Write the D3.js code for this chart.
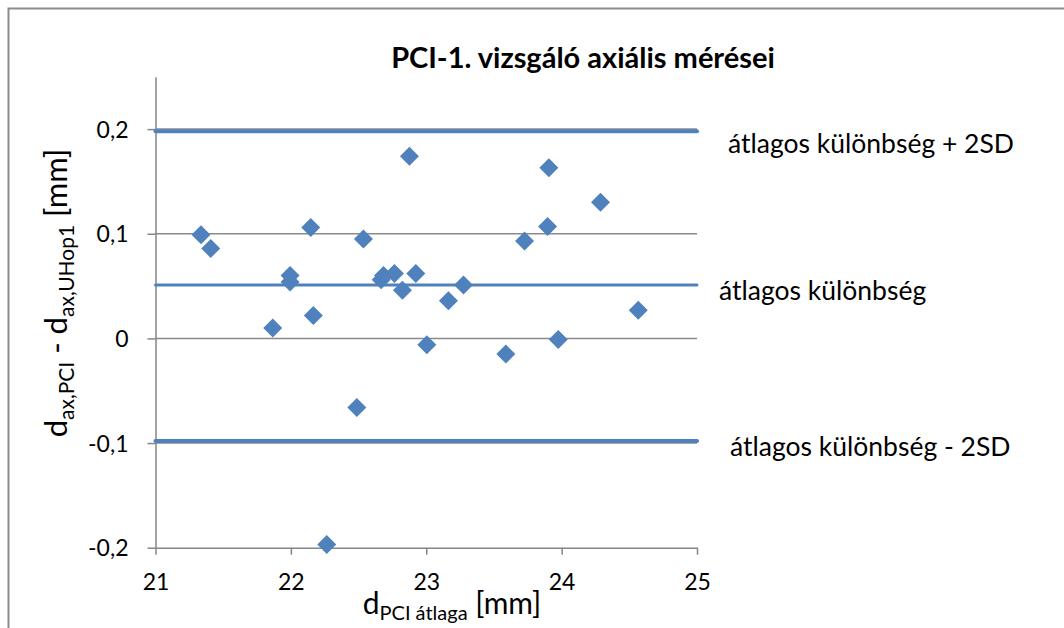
<!DOCTYPE html>
<html>
<head>
<meta charset="utf-8">
<script src="https://cdn.jsdelivr.net/npm/d3@7"></script>
<style>
  body { margin: 0; background: #fff; }
  svg { font-family: Lato, 'Open Sans', sans-serif; }
  .axis path, .axis line { stroke: #868686; stroke-width: 1.5; }
</style>
</head>
<body>
<script>
// mean of the two devices (mm)
const xValues = [21.336, 21.408, 21.866, 21.994, 21.994, 22.147, 22.166, 22.265, 22.487, 22.536,
  22.667, 22.684, 22.765, 22.824, 22.876, 22.923, 23.004, 23.164, 23.275, 23.588,
  23.726, 23.896, 23.906, 23.975, 24.287, 24.566]
// difference PCI - UHop1 (mm)
const yValues = [0.099, 0.086, 0.010, 0.060, 0.054, 0.106, 0.022, -0.197, -0.066, 0.095,
  0.056, 0.060, 0.062, 0.046, 0.174, 0.062, -0.006, 0.036, 0.051, -0.015,
  0.093, 0.107, 0.163, -0.001, 0.130, 0.027]

const refNames = ['átlagos különbség + 2SD', 'átlagos különbség', 'átlagos különbség - 2SD']
const refValues = [0.198, 0.051, -0.098]

const xTicks = [21, 22, 23, 24, 25]
const yTicks = [-0.2, -0.1, 0, 0.1, 0.2]

const width = 1064
const height = 628
const margin = { left: 155.5, top: 76.8, right: 367, bottom: 80.3 }

const blue = '#4f81bd'

const svg = d3.select('body').append('svg')
  .attr('width', width)
  .attr('height', height)

// chart frame, only top and left edges are visible
svg.append('path')
  .attr('d', 'M8.5,' + height + 'V8.5H' + width)
  .attr('fill', 'none').attr('stroke', '#8c8c8c').attr('stroke-width', 2)

// scales in page coordinates
const x = d3.scaleLinear().domain([21, 25]).range([margin.left, width - margin.right])
const y = d3.scaleLinear().domain([-0.2, 0.25]).range([height - margin.bottom, margin.top])

const fmt = d => d === 0 ? '0' : d.toFixed(1).replace('.', ',')

// gridlines
svg.append('g')
  .selectAll('line')
  .data(yTicks.filter(d => d > -0.2))
  .enter().append('line')
  .attr('x1', x(21)).attr('x2', x(25))
  .attr('y1', d => y(d)).attr('y2', d => y(d))
  .attr('stroke', '#8a8a8a').attr('stroke-width', 1.5)

svg.append('g')
  .attr('class', 'axis')
  .attr('transform', 'translate(0,' + y(-0.2) + ')')
  .call(d3.axisBottom(x).tickValues(xTicks).tickFormat(d => d).tickSize(7).tickSizeOuter(0).tickPadding(19))
  .call(a => a.attr('font-size', 23).attr('font-family', null))
  .call(a => a.selectAll('text').attr('fill', '#000'))

svg.append('g')
  .attr('class', 'axis')
  .attr('transform', 'translate(' + x(21) + ',0)')
  .call(d3.axisLeft(y).tickValues(yTicks).tickFormat(fmt).tickSize(8).tickSizeOuter(0).tickPadding(19))
  .call(a => a.attr('font-size', 23).attr('font-family', null))
  .call(a => a.selectAll('text').attr('fill', '#000').attr('dy', '0.35em'))

// reference lines
svg.append('g')
  .selectAll('line')
  .data(refValues)
  .enter().append('line')
  .attr('x1', x(21)).attr('x2', x(25))
  .attr('y1', d => y(d)).attr('y2', d => y(d))
  .attr('stroke', blue)
  .attr('stroke-width', (d, i) => i === 1 ? 3 : 4)
  .attr('stroke-linecap', 'round')

// labels next to the reference lines
const labelDx = [31, 22, 33]
const labelDy = [22, 15, 15]
svg.selectAll('text.ref')
  .data(refNames)
  .enter().append('text')
  .attr('class', 'ref')
  .attr('x', (d, i) => x(25) + labelDx[i])
  .attr('y', (d, i) => y(refValues[i]) + labelDy[i])
  .attr('font-size', 26.5)
  .attr('fill', '#000')
  .text(d => d)

// points
const pts = xValues.map((v, i) => ({ x: v, y: yValues[i] }))
svg.append('g')
  .selectAll('path')
  .data(pts)
  .enter().append('path')
  .attr('d', 'M0,-9.5L9.5,0L0,9.5L-9.5,0Z')
  .attr('transform', d => 'translate(' + x(d.x) + ',' + y(d.y) + ')')
  .attr('fill', blue)

// title
svg.append('text')
  .attr('x', 583).attr('y', 68)
  .attr('text-anchor', 'middle')
  .attr('font-size', 29).attr('font-weight', 'bold')
  .text('PCI-1. vizsgáló axiális mérései')

// x axis title
const xt = svg.append('text')
  .attr('x', 452).attr('y', 614)
  .attr('text-anchor', 'middle')
  .attr('font-size', 30)
xt.append('tspan').text('d')
xt.append('tspan').attr('font-size', 20).attr('dy', 6).text('PCI  átlaga')
xt.append('tspan').attr('dy', -6).text(' [mm]')

// y axis title
const yt = svg.append('text')
  .attr('transform', 'translate(67,' + 293 + ') rotate(-90)')
  .attr('text-anchor', 'middle')
  .attr('font-size', 31)
yt.append('tspan').text('d')
yt.append('tspan').attr('font-size', 21).attr('dy', 7).text('ax,PCI')
yt.append('tspan').attr('dy', -7).text(' - d')
yt.append('tspan').attr('font-size', 21).attr('dy', 7).text('ax,UHop1')
yt.append('tspan').attr('dy', -7).text(' [mm]')
</script>
</body>
</html>
